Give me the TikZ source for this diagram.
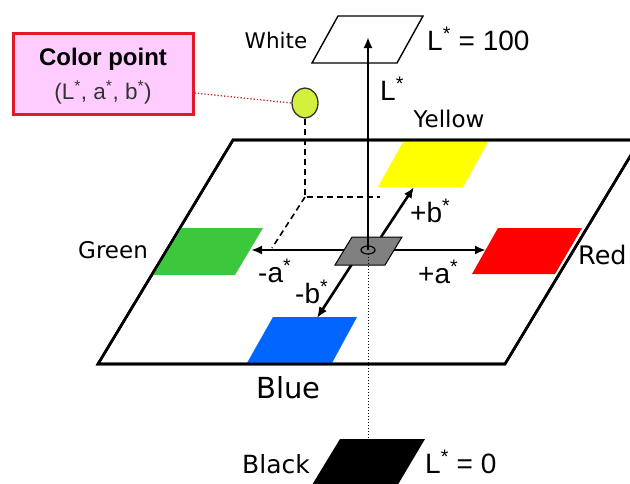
\documentclass[tikz,border=0pt]{standalone}
\usepackage{fontspec}
\setmainfont{Liberation Sans}
\newfontfamily\osans{DejaVu Sans}
\usetikzlibrary{arrows.meta,shapes.geometric}
\definecolor{cgreen}{RGB}{60,200,60}
\definecolor{cyellow}{RGB}{255,255,0}
\definecolor{cred}{RGB}{255,0,0}
\definecolor{cblue}{RGB}{0,102,255}
\definecolor{cgray}{RGB}{128,128,128}
\definecolor{cpink}{RGB}{255,204,255}
\definecolor{cboxred}{RGB}{225,25,40}
\definecolor{cpoint}{RGB}{210,240,60}
\definecolor{cdot}{RGB}{190,40,40}
\tikzset{
  axis/.style={line width=2.6pt,-{Latex[length=11pt,width=9pt]}},
  plane/.style={line width=2.6pt,line join=miter},
  dashline/.style={line width=1.6pt,dash pattern=on 6pt off 4pt},
  namelbl/.style={font=\osans\fontsize{#1}{#1}\selectfont,inner sep=0pt},
  namelbl/.default=22,
  axlbl/.style={font=\fontsize{28}{30}\selectfont,inner sep=0pt},
}
\begin{document}
\begin{tikzpicture}[x=1pt,y=-1pt]
\useasboundingbox (0,0) rectangle (630,483);
% main plane
\draw[plane] (98,364) -- (233,140) -- (640,140) -- (505,364) -- cycle;
% patches
\fill[cyellow] (378,187) -- (403,142) -- (488,142) -- (463,187) -- cycle;
\fill[cgreen] (153,275) -- (182,228) -- (263,228) -- (235,275) -- cycle;
\fill[cred] (472,274) -- (498,228) -- (582,228) -- (555,274) -- cycle;
\fill[cblue] (247,363) -- (273,317) -- (357,317) -- (332,363) -- cycle;
\fill[black] (298,508) -- (340,439) -- (425,439) -- (384,508) -- cycle;
\draw[line width=1.4pt] (312,63) -- (338,16) -- (423,16) -- (397,63) -- cycle;
% redraw plane edges over patches
\draw[plane] (98,364) -- (233,140) -- (640,140) -- (505,364) -- cycle;
% coordinates
\coordinate (O) at (368,250);
\coordinate (Ltop) at (368,37);
\coordinate (Aplus0) at (393,250);
\coordinate (Aplus) at (486,250);
\coordinate (Aminus) at (251,250);
\coordinate (Bplus0) at (381,237);
\coordinate (Bplus) at (414,187);
\coordinate (Bminus0) at (352,264);
\coordinate (Bminus) at (317,318);
\coordinate (P1) at (305,197);
\coordinate (P2) at (380,197);
\coordinate (P3) at (272,248);
\coordinate (Bk) at (368,439);
% color point and dashed projection
\node[ellipse,draw=black!80,line width=1.3pt,fill=cpoint,minimum width=26pt,minimum height=30pt,inner sep=0pt] (pt) at (305,103) {};
\draw[dashline] (pt.south) -- (P1) -- (P2);
\draw[dashline] (P1) -- (P3);
% axes
\draw[axis] (O) -- (Aminus);
\draw[axis] (Aplus0) -- (Aplus);
\draw[axis] (Bplus0) -- (Bplus);
\draw[axis] (Bminus0) -- (Bminus);
% gray center square
\fill[cgray,draw=black,line width=1pt] (335,265) -- (352,237) -- (402,237) -- (385,265) -- cycle;
\draw[line width=1.2pt] (O) ellipse (7pt and 4pt);
\draw[axis] (O) -- (Ltop);
% dotted line to black
\draw[line width=1pt,dotted] (368,254) -- (Bk);
% color point box
\node[draw=cboxred,line width=3pt,fill=cpink,minimum width=180pt,minimum height=81pt,inner sep=0pt] (box) at (103,73.5) {};
\node[font=\bfseries\fontsize{24}{26}\selectfont,anchor=base,inner sep=0pt] at (103,65) {Color point};
\node[font=\fontsize{22.5}{24}\selectfont,anchor=base,inner sep=0pt,text=black!80] at (103,99) {(L\textsuperscript{*}, a\textsuperscript{*}, b\textsuperscript{*})};
\draw[cdot,line width=1.3pt,dotted] (box.east |- 0,93) -- (pt.west);
% labels
\node[namelbl=21.5,anchor=base] at (276,48) {White};
\node[axlbl,anchor=base west] at (427,50) {L\textsuperscript{*} = 100};
\node[axlbl,anchor=base west] at (380,100) {L\textsuperscript{*}};
\node[namelbl=23,anchor=base] at (449,127) {Yellow};
\node[axlbl,anchor=base west] at (410,222) {+b\textsuperscript{*}};
\node[axlbl,anchor=base west] at (418,283) {+a\textsuperscript{*}};
\node[axlbl,anchor=base west] at (258,282) {-a\textsuperscript{*}};
\node[axlbl,anchor=base west] at (295,303) {-b\textsuperscript{*}};
\node[namelbl=23,anchor=base west] at (78,258) {Green};
\node[namelbl=25.5,anchor=base west] at (578,264) {Red};
\node[namelbl=29,anchor=base west] at (256,398) {Blue};
\node[namelbl=25,anchor=base west] at (242,473) {Black};
\node[axlbl,anchor=base west] at (425,473) {L\textsuperscript{*} = 0};
\end{tikzpicture}
\end{document}
